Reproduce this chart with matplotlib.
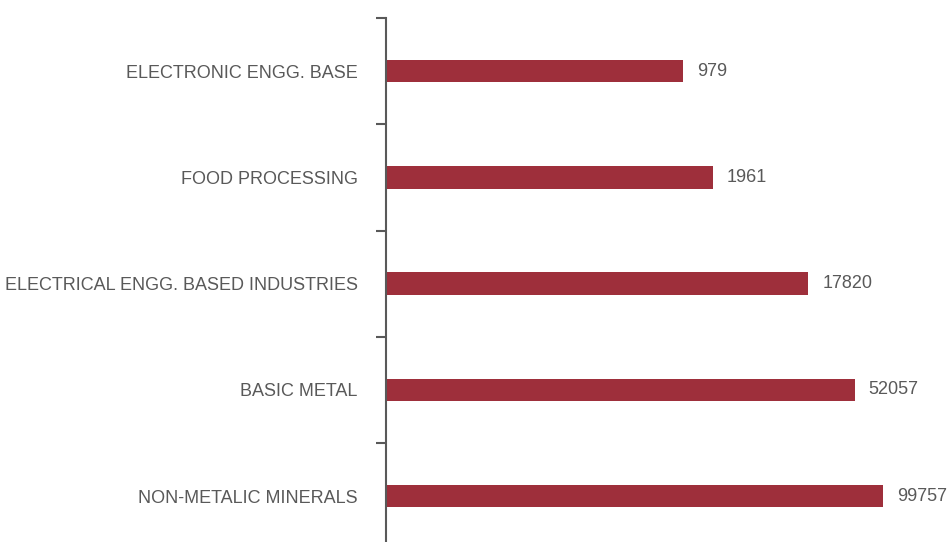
import matplotlib
matplotlib.use("Agg")
import matplotlib.pyplot as plt
import numpy as np

categories = ["ELECTRONIC ENGG. BASE", "FOOD PROCESSING", "ELECTRICAL ENGG. BASED INDUSTRIES",
              "BASIC METAL", "NON-METALIC MINERALS"]
values = [979, 1961, 17820, 52057, 99757]

plt.rcParams['font.family'] = ['Liberation Sans', 'DejaVu Sans']

W, H = 952, 542
fig = plt.figure(figsize=(W/100, H/100), dpi=100)
left = 385.5 / W
top_px = 18
band = 106.25
bottom_px = top_px + 5 * band
decades = 5.75
ppd = 99.5
ax = fig.add_axes([left, 1 - bottom_px / H, decades * ppd / W, 5 * band / H])

y = np.arange(len(categories))
bar_color = "#9E2F3B"
text_color = "#595959"
ax.barh(y, values, height=0.21, color=bar_color, left=0)
ax.set_xscale('log')
ax.set_xlim(1, 10 ** decades)
ax.set_ylim(len(categories) - 0.5, -0.5)

for yi, v in zip(y, values):
    ax.annotate(str(v), (v, yi), xytext=(10, 0), textcoords='offset points',
                va='center', ha='left', fontsize=13, color=text_color, clip_on=False)

ax.set_yticks(y)
ax.set_yticklabels(categories, fontsize=13, color=text_color)
ax.set_yticks(np.arange(-0.5, len(categories) + 0.5, 1), minor=True)
ax.tick_params(axis='y', which='major', length=0, pad=20)
ax.tick_params(axis='y', which='minor', length=7.5, width=1.5, color="#595959")
ax.set_xticks([])
ax.xaxis.set_minor_locator(matplotlib.ticker.NullLocator())
for s in ['top', 'right', 'bottom']:
    ax.spines[s].set_visible(False)
ax.spines['left'].set_color("#595959")
ax.spines['left'].set_linewidth(1.5)

fig.savefig("out.png", dpi=100)
